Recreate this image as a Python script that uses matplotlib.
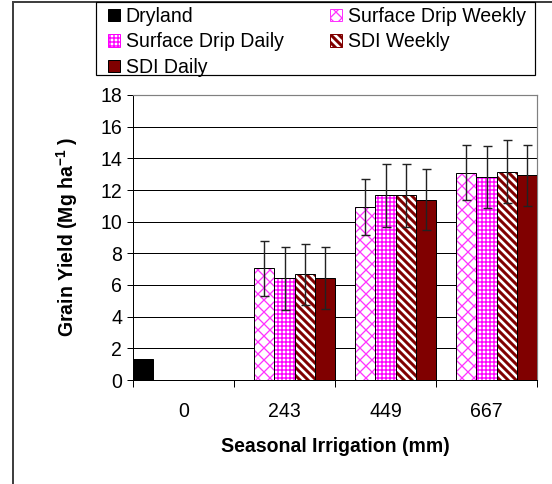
import numpy as np
import matplotlib
matplotlib.use("Agg")
import matplotlib.pyplot as plt
from matplotlib.patches import Patch, Rectangle
from matplotlib.lines import Line2D
from matplotlib.legend_handler import HandlerPatch

# ---- data ----
categories = ["0", "243", "449", "667"]
series_names = ["Dryland", "Surface Drip Weekly", "Surface Drip Daily", "SDI Weekly", "SDI Daily"]
dryland = [1.35, np.nan, np.nan, np.nan]
sd_weekly = [np.nan, 7.05, 10.93, 13.10]
sd_daily = [np.nan, 6.42, 11.67, 12.82]
sdi_weekly = [np.nan, 6.67, 11.66, 13.16]
sdi_daily = [np.nan, 6.46, 11.40, 12.92]
dryland_err = [np.nan, np.nan, np.nan, np.nan]
sd_weekly_err = [np.nan, 1.75, 1.78, 1.75]
sd_daily_err = [np.nan, 2.00, 2.00, 1.95]
sdi_weekly_err = [np.nan, 1.95, 2.00, 1.98]
sdi_daily_err = [np.nan, 1.97, 1.95, 1.95]
yticks = list(range(0, 19, 2))

plt.rcParams["font.family"] = ["Liberation Sans", "DejaVu Sans"]
plt.rcParams["mathtext.fontset"] = "custom"
plt.rcParams["mathtext.rm"] = "Liberation Sans"
plt.rcParams["mathtext.bf"] = "Liberation Sans:bold"
FS = 19.5

W, H = 552, 484
DPI = 72
fig = plt.figure(figsize=(W / DPI, H / DPI), dpi=DPI)
fig.patch.set_facecolor("white")

L, R, T, B = 133, 537, 95, 380
ax = fig.add_axes([L / W, 1 - B / H, (R - L) / W, (B - T) / H])

values = [dryland, sd_weekly, sd_daily, sdi_weekly, sdi_daily]
errors = [dryland_err, sd_weekly_err, sd_daily_err, sdi_weekly_err, sdi_daily_err]
styles = [
    dict(kind="solid", color="black"),
    dict(kind="hatch", color="#FF33FF", hatch="xx", hlw=1.3),
    dict(kind="hatch", color="#FF00FF", hatch="+++", hlw=1.4),
    dict(kind="hatch", color="#800000", hatch="\\\\\\", hlw=3.0),
    dict(kind="solid", color="#800000"),
]


def with_hatch_lw(artist, lw):
    orig = artist.draw

    def draw(renderer, _orig=orig, _lw=lw):
        with plt.rc_context({"hatch.linewidth": _lw}):
            return _orig(renderer)

    artist.draw = draw
    if hasattr(artist, "set_hatch_linewidth"):
        artist.set_hatch_linewidth(lw)
    return artist


nser = len(series_names)
ncat = len(categories)
cat_idx = np.arange(ncat)

for j, (vals, errs, st) in enumerate(zip(values, errors, styles)):
    vals = np.asarray(vals, dtype=float)
    errs = np.asarray(errs, dtype=float)
    m = ~np.isnan(vals)
    x = cat_idx[m] * nser + j + 0.5
    h = vals[m]
    if st["kind"] == "solid":
        ax.bar(x, h, width=1.0, color=st["color"], edgecolor="black", linewidth=1, zorder=3)
    else:
        bars = ax.bar(x, h, width=1.0, color="white", edgecolor=st["color"], linewidth=0,
                      hatch=st["hatch"], zorder=3)
        for b in bars:
            with_hatch_lw(b, st["hlw"])
        ax.bar(x, h, width=1.0, fill=False, edgecolor="black", linewidth=1, zorder=4)
    e = errs[m]
    em = ~np.isnan(e)
    if em.any():
        ax.errorbar(x[em], h[em], yerr=e[em], fmt="none", ecolor="#222222",
                    elinewidth=1.4, capsize=4.5, capthick=1.4, zorder=5)

ax.set_xlim(0, ncat * nser)
ax.set_ylim(0, 18)
ax.set_yticks(yticks)
ax.set_yticklabels([str(t) for t in yticks], fontsize=FS)
ax.tick_params(axis="y", direction="out", length=6, width=1, pad=5, colors="black")

ax.set_xticks(np.arange(ncat + 1) * nser)
ax.set_xticklabels([])
ax.set_xticks(cat_idx * nser + nser / 2, minor=True)
ax.set_xticklabels(categories, minor=True, fontsize=FS)
ax.tick_params(axis="x", which="major", direction="out", length=7, width=1)
ax.tick_params(axis="x", which="minor", length=0, pad=22)

ax.yaxis.grid(True, color="black", linewidth=1, zorder=0)
ax.set_axisbelow(True)
for s in ["left", "bottom"]:
    ax.spines[s].set_color("black")
    ax.spines[s].set_linewidth(1)
for s in ["top", "right"]:
    ax.spines[s].set_color("#808080")
    ax.spines[s].set_linewidth(1.2)

ax.set_xlabel("Seasonal Irrigation (mm)", fontsize=FS, fontweight="bold", labelpad=16)
fig.text(67 / W, 1 - 237 / H, r"Grain Yield (Mg ha$^{\mathbf{-1}}$ )", rotation=90,
         ha="center", va="center", fontsize=FS, fontweight="bold")

# outer frame (left and top edges visible)
fig.add_artist(Line2D([12.5 / W, 12.5 / W], [1 - 2 / H, 0], transform=fig.transFigure,
                      color="#404040", linewidth=2))
fig.add_artist(Line2D([12.5 / W, 1], [1 - 2 / H, 1 - 2 / H], transform=fig.transFigure,
                      color="#404040", linewidth=2))

# legend box
lx0, lx1, ly0, ly1 = 96, 535, 2, 75
fig.add_artist(Rectangle((lx0 / W, 1 - ly1 / H), (lx1 - lx0) / W, (ly1 - ly0) / H,
                         transform=fig.transFigure, fill=False, edgecolor="black",
                         linewidth=1.2, zorder=10))


class HatchLWHandler(HandlerPatch):
    def __init__(self, lw, **kw):
        super().__init__(**kw)
        self._lw = lw

    def create_artists(self, *args, **kwargs):
        arts = super().create_artists(*args, **kwargs)
        for a in arts:
            with_hatch_lw(a, self._lw)
        return arts


def handle(st):
    if st["kind"] == "solid":
        return Patch(facecolor=st["color"], edgecolor="black", linewidth=1)
    return Patch(facecolor="white", edgecolor=st["color"], hatch=st["hatch"], linewidth=1)


order = [0, 2, 4, 1, 3]
handles = [handle(styles[i]) for i in order]
labels = [series_names[i] for i in order]
hmap = {}
for i, hd in zip(order, handles):
    if styles[i]["kind"] == "hatch":
        hmap[hd] = HatchLWHandler(styles[i]["hlw"])
leg = fig.legend(handles, labels, loc="upper left", bbox_to_anchor=(108 / W, 1 - 7 / H),
                 ncol=2, frameon=False, fontsize=FS, handlelength=0.6, handleheight=0.6,
                 handletextpad=0.3, columnspacing=2.4, labelspacing=0.33, borderpad=0,
                 borderaxespad=0, handler_map=hmap)

fig.savefig("out.png", dpi=DPI, facecolor="white")
